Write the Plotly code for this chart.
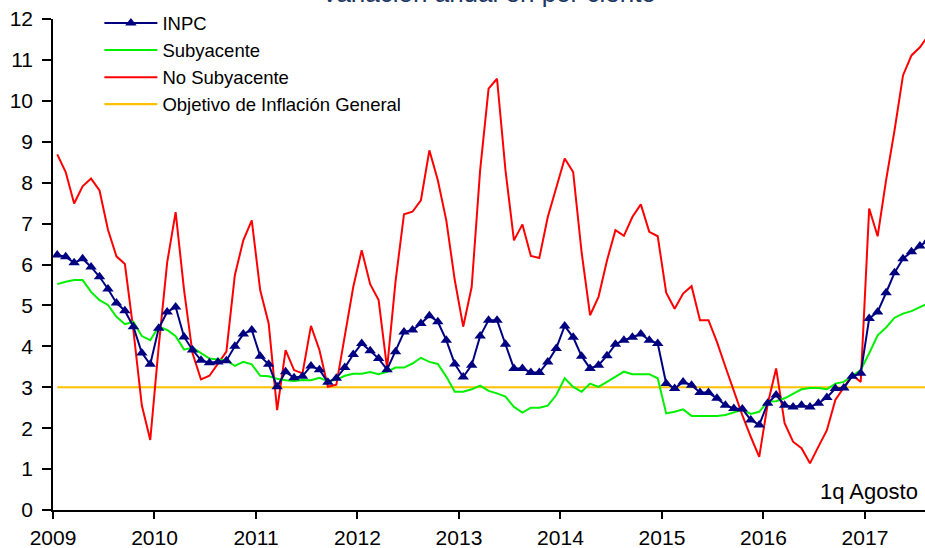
import plotly.graph_objects as go

years = ["2009", "2010", "2011", "2012", "2013", "2014", "2015", "2016", "2017"]

inpc = [
    6.23, 6.19, 6.04, 6.14, 5.94, 5.70, 5.40, 5.06, 4.87, 4.48, 3.84, 3.56,
    4.44, 4.84, 4.96, 4.23, 3.91, 3.66, 3.60, 3.62, 3.65, 4.00, 4.30, 4.40,
    3.76, 3.56, 3.01, 3.38, 3.23, 3.27, 3.52, 3.43, 3.12, 3.22, 3.48, 3.80,
    4.07, 3.89, 3.70, 3.43, 3.87, 4.35, 4.40, 4.56, 4.75, 4.60, 4.15, 3.57,
    3.25, 3.54, 4.25, 4.64, 4.64, 4.05, 3.46, 3.46, 3.36, 3.36, 3.62, 3.95,
    4.50, 4.22, 3.76, 3.46, 3.54, 3.77, 4.05, 4.15, 4.22, 4.30, 4.15, 4.07,
    3.09, 2.97, 3.13, 3.05, 2.87, 2.87, 2.73, 2.56, 2.48, 2.47, 2.20, 2.08,
    2.61, 2.81, 2.56, 2.52, 2.56, 2.52, 2.61, 2.75, 2.97, 2.98, 3.27, 3.34,
    4.68, 4.84, 5.31, 5.80, 6.14, 6.31, 6.45, 6.60,
]

subyacente = [
    5.52, 5.58, 5.62, 5.62, 5.33, 5.13, 5.01, 4.72, 4.54, 4.60, 4.25, 4.15,
    4.48, 4.40, 4.25, 3.92, 3.97, 3.84, 3.70, 3.68, 3.66, 3.52, 3.62, 3.56,
    3.28, 3.27, 3.21, 3.17, 3.15, 3.18, 3.17, 3.23, 3.15, 3.18, 3.28, 3.33,
    3.33, 3.37, 3.32, 3.38, 3.48, 3.48, 3.58, 3.72, 3.62, 3.57, 3.26, 2.89,
    2.89, 2.95, 3.04, 2.91, 2.85, 2.77, 2.52, 2.38, 2.50, 2.50, 2.55, 2.81,
    3.22, 3.01, 2.89, 3.09, 3.01, 3.13, 3.26, 3.38, 3.32, 3.32, 3.32, 3.22,
    2.36, 2.40, 2.46, 2.30, 2.30, 2.30, 2.30, 2.32, 2.38, 2.45, 2.35, 2.40,
    2.65, 2.66, 2.73, 2.83, 2.95, 2.98, 2.98, 2.95, 3.09, 3.13, 3.27, 3.42,
    3.83, 4.27, 4.46, 4.70, 4.80, 4.86, 4.96, 5.05,
]

no_subyacente = [
    8.69, 8.26, 7.49, 7.91, 8.10, 7.81, 6.85, 6.20, 6.01, 4.40, 2.56, 1.71,
    4.00, 6.05, 7.28, 5.37, 3.83, 3.19, 3.28, 3.59, 3.87, 5.74, 6.59, 7.08,
    5.37, 4.56, 2.44, 3.91, 3.42, 3.34, 4.50, 3.91, 3.01, 3.06, 4.23, 5.45,
    6.35, 5.52, 5.13, 3.46, 5.59, 7.23, 7.29, 7.57, 8.79, 8.06, 7.08, 5.62,
    4.48, 5.45, 8.30, 10.30, 10.54, 8.30, 6.59, 6.98, 6.21, 6.16, 7.16, 7.90,
    8.59, 8.26, 6.30, 4.76, 5.21, 6.10, 6.84, 6.70, 7.16, 7.47, 6.80, 6.69,
    5.31, 4.92, 5.29, 5.47, 4.64, 4.64, 4.11, 3.50, 2.89, 2.32, 1.79, 1.30,
    2.59, 3.46, 2.12, 1.67, 1.51, 1.14, 1.55, 1.95, 2.69, 3.01, 3.30, 3.13,
    7.37, 6.69, 8.06, 9.28, 10.62, 11.11, 11.31, 11.60,
]

objetivo = [3.0] * len(inpc)

x = list(range(len(inpc)))
tickvals = [12 * k - 0.5 for k in range(len(years))]

FONT = "Liberation Sans, Arial, sans-serif"

fig = go.Figure()
fig.add_trace(go.Scatter(x=x, y=objetivo, mode="lines", name="Objetivo de Inflación General",
                         line=dict(color="#FFC000", width=2.2), legendrank=4))
fig.add_trace(go.Scatter(x=x, y=no_subyacente, mode="lines", name="No Subyacente",
                         line=dict(color="#FF0000", width=2), legendrank=3))
fig.add_trace(go.Scatter(x=x, y=subyacente, mode="lines", name="Subyacente",
                         line=dict(color="#00F000", width=2), legendrank=2))
fig.add_trace(go.Scatter(x=x, y=inpc, mode="lines+markers", name="INPC",
                         line=dict(color="#000080", width=2),
                         marker=dict(symbol="triangle-up", size=10, color="#000080"),
                         legendrank=1))

fig.update_layout(
    width=925, height=548,
    margin=dict(l=53, r=0, t=19, b=38),
    paper_bgcolor="white", plot_bgcolor="white",
    font=dict(family=FONT, size=20, color="black"),
    showlegend=True,
    legend=dict(x=0.0532, y=1.0295, xanchor="left", yanchor="top",
                bgcolor="rgba(0,0,0,0)", itemwidth=53,
                font=dict(family=FONT, size=18.5, color="black")),
    xaxis=dict(range=[-0.5, 102.6], tickmode="array", tickvals=tickvals, ticktext=years,
               showgrid=False, zeroline=False, showline=True, linecolor="black", linewidth=1.5,
               ticks="outside", ticklen=7, tickwidth=1.5, tickcolor="black",
               ticklabelstandoff=1, automargin=False,
               tickfont=dict(family=FONT, size=21, color="black")),
    yaxis=dict(range=[0, 12], dtick=1, tick0=0,
               showgrid=False, zeroline=False, showline=True, linecolor="black", linewidth=1.5,
               ticks="outside", ticklen=9, tickwidth=1.5, tickcolor="black",
               ticklabelstandoff=5, automargin=False,
               tickfont=dict(family=FONT, size=21, color="black")),
    annotations=[
        dict(text="Variación anual en por ciento", xref="paper", yref="paper",
             x=0.4989, y=1.0193, xanchor="center", yanchor="bottom", showarrow=False,
             font=dict(family=FONT, size=26, color="#1F3864")),
        dict(text="1q Agosto", xref="paper", yref="paper",
             x=0.9943, y=0.0081, xanchor="right", yanchor="bottom", showarrow=False,
             font=dict(family=FONT, size=22, color="black")),
    ],
)

fig.write_html("out.html", config={"displayModeBar": False},
               post_script="document.body.style.margin='0px';")
